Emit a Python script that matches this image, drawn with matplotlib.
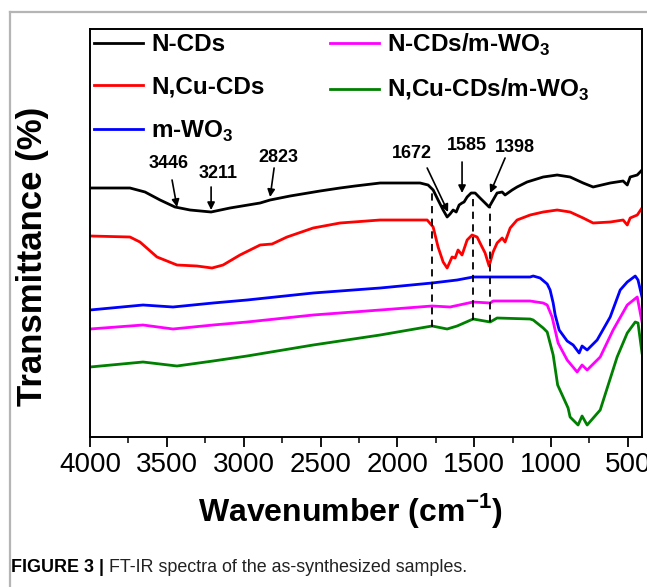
import matplotlib
matplotlib.use("Agg")
import matplotlib.pyplot as plt
from matplotlib.lines import Line2D
from matplotlib.ticker import MultipleLocator

plt.rcParams['font.family'] = ['Liberation Sans', 'DejaVu Sans']
plt.rcParams['mathtext.fontset'] = 'custom'
plt.rcParams['mathtext.rm'] = 'Liberation Sans'
plt.rcParams['mathtext.bf'] = 'Liberation Sans:bold'

# ---------------- data (wavenumber cm-1, transmittance a.u.) ----------------
wn_ncds = [4000, 3740, 3642, 3544, 3447, 3349, 3212, 3089, 2893, 2828, 2698, 2503, 2373,
           2275, 2112, 1982, 1852, 1800, 1767, 1735, 1702, 1676, 1657, 1637, 1617, 1598,
           1579, 1566, 1546, 1520, 1494, 1462, 1429, 1403, 1377, 1351, 1318, 1299, 1253,
           1221, 1156, 1051, 960, 876, 791, 726, 615, 531, 504, 485, 439, 408]
t_ncds = [249, 249, 245, 237, 230, 227, 225, 229, 234, 237, 241, 246, 249,
          251, 254, 254, 254, 252, 247, 237, 227, 220, 223, 227, 225, 232,
          234, 235, 240, 244, 244, 239, 234, 230, 237, 244, 245, 242, 247,
          250, 255, 260, 262, 260, 254, 250, 254, 256, 252, 260, 262, 267]

wn_ncucds = [4000, 3740, 3675, 3564, 3434, 3304, 3206, 3134, 3024, 2893, 2815, 2718, 2548,
             2373, 2112, 1982, 1852, 1806, 1767, 1735, 1702, 1676, 1644, 1624, 1605, 1579,
             1546, 1514, 1481, 1462, 1429, 1403, 1377, 1351, 1318, 1299, 1266, 1221, 1136,
             1051, 960, 876, 791, 726, 615, 531, 504, 485, 439, 408]
t_ncucds = [201, 200, 195, 180, 172, 171, 169, 172, 182, 192, 193, 200, 209,
            214, 217, 217, 217, 217, 210, 190, 175, 169, 180, 179, 187, 182,
            197, 202, 200, 194, 184, 171, 185, 194, 199, 195, 209, 217, 222,
            225, 227, 225, 219, 214, 215, 217, 212, 219, 222, 229]

wn_wo3 = [4000, 3655, 3460, 3199, 2978, 2548, 2112, 1774, 1611, 1507, 1396, 1136, 1116,
          1071, 1025, 1006, 986, 973, 947, 895, 856, 817, 798, 765, 700, 615, 550, 504,
          452, 434, 408]
t_wo3 = [127, 132, 130, 134, 137, 144, 149, 154, 157, 160, 160, 160, 161,
         159, 153, 147, 134, 122, 107, 96, 92, 84, 91, 87, 97, 120, 147, 155,
         161, 157, 140]

wn_ncds_wo3 = [4000, 3655, 3460, 3199, 2978, 2548, 2112, 1774, 1657, 1507, 1396, 1377,
               1136, 1051, 1025, 993, 954, 895, 830, 798, 765, 680, 596, 504, 439, 408]
t_ncds_wo3 = [108, 112, 108, 112, 115, 122, 127, 131, 130, 135, 134, 136,
              136, 134, 132, 120, 94, 77, 65, 72, 67, 80, 107, 132, 140, 115]

wn_ncucds_wo3 = [4000, 3655, 3434, 3199, 2978, 2548, 2112, 1774, 1676, 1611, 1507, 1396,
                 1351, 1136, 1116, 1051, 1025, 986, 957, 889, 876, 824, 798, 765, 680,
                 570, 504, 452, 434, 408]
t_ncucds_wo3 = [70, 75, 71, 76, 81, 92, 102, 111, 108, 111, 118, 115,
                119, 118, 117, 109, 105, 82, 52, 29, 20, 12, 21, 12, 27,
                80, 104, 115, 114, 84]

series_labels = ['N-CDs', 'N,Cu-CDs', r'm-WO$_\mathbf{3}$',
                 r'N-CDs/m-WO$_\mathbf{3}$', r'N,Cu-CDs/m-WO$_\mathbf{3}$']
series_colors = ['#000000', '#ff0000', '#0000ff', '#ff00ff', '#008000']

# dashed guide lines
dash_wn = [1776, 1509, 1396]
dash_top = [245, 244, 230]
dash_bot = [110, 117, 115]

# peak annotations: label, text position, arrow start, arrow tip
peak_labels = ['3446', '3211', '2823', '1672', '1585', '1398']
peak_text_xy = [(3486, 274), (3167, 264), (2776, 280), (1904, 283), (1546, 292), (1234, 290)]
peak_arrow_from = [(3466, 257), (3212, 250), (2802, 269), (1806, 269), (1579, 275), (1299, 279)]
peak_arrow_to = [(3434, 230), (3212, 227), (2828, 240), (1670, 225), (1579, 244), (1396, 244)]

# ---------------- figure ----------------
W, H = 647, 587
fig = plt.figure(figsize=(W / 100, H / 100), dpi=100)
ax = fig.add_axes([90 / W, (H - 437) / H, (641.7 - 90) / W, (437 - 29) / H])

xs = [wn_ncds, wn_ncucds, wn_wo3, wn_ncds_wo3, wn_ncucds_wo3]
ys = [t_ncds, t_ncucds, t_wo3, t_ncds_wo3, t_ncucds_wo3]
handles = []
for x, y, c, lab in zip(xs, ys, series_colors, series_labels):
    h, = ax.plot(x, y, color=c, lw=2.0, label=lab, solid_joinstyle='round')
    handles.append(h)

ax.vlines(dash_wn, dash_bot, dash_top, colors='k', linestyles=(0, (4, 3)), lw=1.3)

for lab, txy, a0, a1 in zip(peak_labels, peak_text_xy, peak_arrow_from, peak_arrow_to):
    ax.text(txy[0], txy[1], lab, ha='center', va='center', fontsize=13, fontweight='bold')
    ax.annotate('', xy=a1, xytext=a0,
                arrowprops=dict(arrowstyle='-|>', color='k', lw=1.2,
                                mutation_scale=11, shrinkA=0, shrinkB=0))

ax.set_xlim(4000, 410)
ax.set_ylim(0, 408)
ax.xaxis.set_major_locator(MultipleLocator(500))
ax.xaxis.set_minor_locator(MultipleLocator(250))
ax.set_yticks([])
ax.tick_params(axis='x', which='major', direction='out', length=7, width=1.3,
               labelsize=20, pad=4, top=False)
ax.tick_params(axis='x', which='minor', direction='out', length=4, width=1.1, top=False)
for s in ax.spines.values():
    s.set_linewidth(1.4)

ax.set_xlabel(r'Wavenumber (cm$^{\mathbf{-1}}$)', fontsize=23, fontweight='bold', va='center')
ax.xaxis.set_label_coords((350 - 90) / 551.7, (437 - 510) / 408)
ax.set_ylabel('Transmittance (%)', fontsize=25, fontweight='bold', va='center')
ax.yaxis.set_label_coords((33 - 90) / 551.7, (437 - 256) / 408)

leg = ax.legend(handles=handles, ncol=2, loc='upper left', frameon=False,
                bbox_to_anchor=(0.003, 1.0), borderaxespad=0, borderpad=0.1,
                handlelength=2.0, handletextpad=0.35, columnspacing=2.7,
                labelspacing=0.8,
                prop={'family': 'Liberation Sans', 'weight': 'bold', 'size': 17.5})

# page frame lines
fig.add_artist(Line2D([10 / W, 1], [1 - 12 / H, 1 - 12 / H], transform=fig.transFigure,
                      color='#b5b5b5', lw=1.6))
fig.add_artist(Line2D([10 / W, 10 / W], [0, 1 - 12 / H], transform=fig.transFigure,
                      color='#b5b5b5', lw=1.6))

# caption
t1 = fig.text(11 / W, (H - 568) / H, 'FIGURE 3 | ', fontsize=12.9, fontweight='bold',
              va='center', ha='left')
fig.canvas.draw()
bb = t1.get_window_extent()
fig.text(bb.x1 / W, (H - 568) / H, 'FT-IR spectra of the as-synthesized samples.',
         fontsize=12.9, va='center', ha='left', color='#222222')

fig.savefig('out.png', dpi=100)
